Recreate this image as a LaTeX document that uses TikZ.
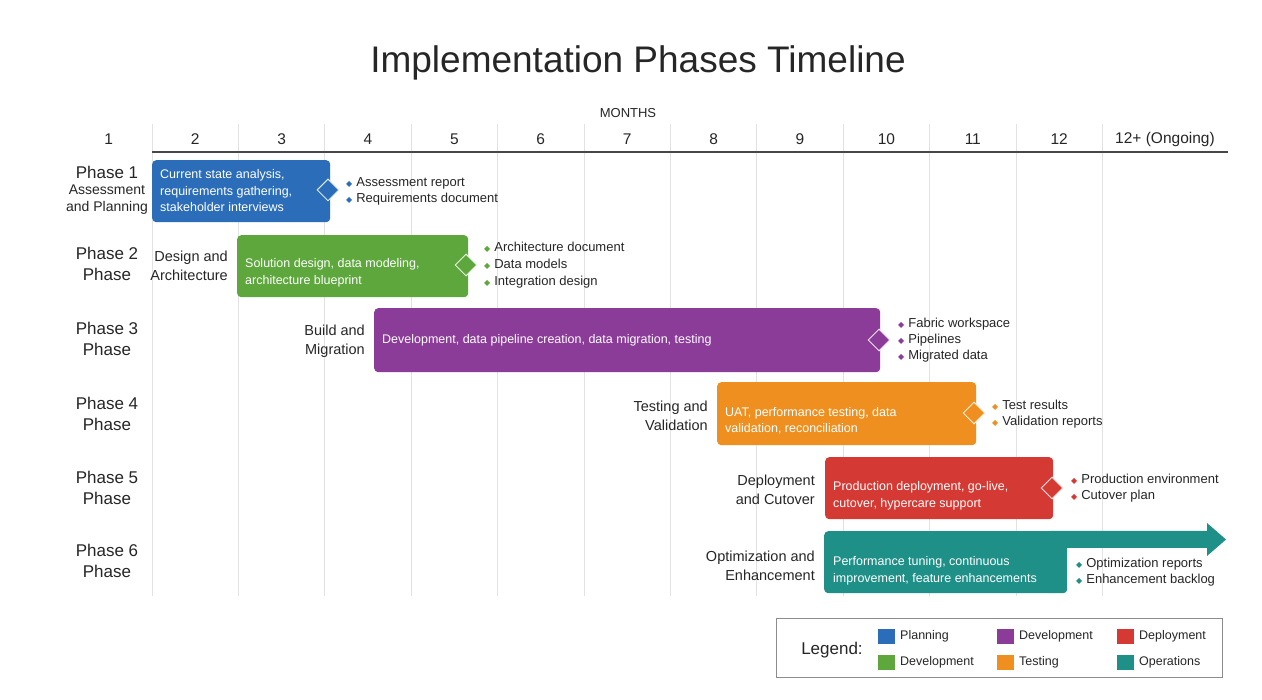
\documentclass[tikz,border=0pt]{standalone}
\usepackage{fontspec}
\setmainfont{Liberation Sans}
\newfontfamily\symfont{DejaVu Sans}
\usetikzlibrary{shapes.geometric}

\definecolor{cplan}{HTML}{2B6DB8}
\definecolor{cdesign}{HTML}{5DA73C}
\definecolor{cbuild}{HTML}{8B3B98}
\definecolor{ctest}{HTML}{EF8F1F}
\definecolor{cdeploy}{HTML}{D43A33}
\definecolor{cops}{HTML}{1F9088}
\definecolor{ink}{HTML}{262626}
\definecolor{gridc}{HTML}{E2E2E2}

% coloured diamond bullet in front of a deliverable
\newcommand{\dbul}[1]{\textcolor{#1}{\symfont\fontsize{8}{8}\selectfont ◆}\hspace{4pt}}

\begin{document}
\begin{tikzpicture}[x=1pt,y=-1pt,
  bar/.style={rounded corners=4pt, inner sep=0, anchor=north west},
  bartext/.style={text=white, align=left, anchor=west, inner sep=0,
    font=\fontsize{12.5}{16.5}\selectfont},
  mile/.style={diamond, fill=#1, draw=white!85!#1, line width=1pt,
    minimum width=22pt, minimum height=22pt, inner sep=0},
  deliv/.style={anchor=west, align=left, text=ink, inner sep=0,
    font=\fontsize{13}{16}\selectfont},
  phaselbl/.style={align=center, text=ink, inner sep=0,
    font=\fontsize{17}{20.5}\selectfont},
  steplbl/.style={align=right, anchor=east, text=ink, inner sep=0,
    font=\fontsize{14.5}{19}\selectfont},
  monthlbl/.style={text=ink, inner sep=0, font=\fontsize{15.5}{18}\selectfont},
  legtext/.style={anchor=west, text=ink, inner sep=0, font=\fontsize{12.5}{14}\selectfont},
  swatch/.style={fill=#1, minimum width=17pt, minimum height=15pt, inner sep=0, anchor=north west}
]
\useasboundingbox (0,0) rectangle (1262,700);
\fill[white] (0,0) rectangle (1262,700);

% title
\node[text=ink, inner sep=0, font=\fontsize{37}{40}\selectfont] (title) at (638,63) {Implementation Phases Timeline};

% month axis
\node[text=ink, inner sep=0, font=\fontsize{13}{15}\selectfont] (months) at (628,113) {MONTHS};
\foreach \k in {0,...,11}
  \draw[gridc, line width=1pt] ({152+86.4*\k},124) -- ({152+86.4*\k},596);
\draw[ink!85, line width=1.6pt] (152,152) -- (1228,152);
\foreach \i in {1,...,12}
  \node[monthlbl] (mo\i) at ({152+86.4*(\i-2)+43.2},139) {\i};
\node[monthlbl] (mo13) at (1165,139) {12+ (Ongoing)};

% phase names
\node[phaselbl] (p1) at (107,190) {Phase 1\\[-4pt]{\fontsize{14}{17}\selectfont Assessment}\\[-4pt]{\fontsize{14}{17}\selectfont and Planning}};
\node[phaselbl] (p2) at (107,264) {Phase 2\\Phase};
\node[phaselbl] (p3) at (107,339) {Phase 3\\Phase};
\node[phaselbl] (p4) at (107,414) {Phase 4\\Phase};
\node[phaselbl] (p5) at (107,488) {Phase 5\\Phase};
\node[phaselbl] (p6) at (107,561) {Phase 6\\Phase};

% step names
\node[steplbl] (s2) at (228,266) {Design and\\Architecture};
\node[steplbl] (s3) at (365,341) {Build and\\Migration};
\node[steplbl] (s4) at (708,416) {Testing and\\Validation};
\node[steplbl] (s5) at (815,490) {Deployment\\and Cutover};
\node[steplbl] (s6) at (815,566) {Optimization and\\Enhancement};

% phase 1
\node[bar, fill=cplan, minimum width=178, minimum height=62] (b1) at (152,160) {};
\node[bartext] (t1) at (160,191) {Current state analysis,\\requirements gathering,\\stakeholder interviews};
\node[mile=cplan] (m1) at (328,190) {};
\node[deliv] (d1) at (346,191) {\dbul{cplan}Assessment report\\\dbul{cplan}Requirements document};

% phase 2
\node[bar, fill=cdesign, minimum width=231, minimum height=62] (b2) at (237,235) {};
\node[bartext] (t2) at (245,273) {Solution design, data modeling,\\architecture blueprint};
\node[mile=cdesign] (m2) at (466,265) {};
\node[deliv] (d2) at (484,265) {\dbul{cdesign}Architecture document\\[1pt]\dbul{cdesign}Data models\\[1pt]\dbul{cdesign}Integration design};

% phase 3
\node[bar, fill=cbuild, minimum width=506, minimum height=64] (b3) at (374,308) {};
\node[bartext] (t3) at (382,340) {Development, data pipeline creation, data migration, testing};
\node[mile=cbuild] (m3) at (879,340) {};
\node[deliv] (d3) at (898,340) {\dbul{cbuild}Fabric workspace\\\dbul{cbuild}Pipelines\\\dbul{cbuild}Migrated data};

% phase 4
\node[bar, fill=ctest, minimum width=259, minimum height=63] (b4) at (717,382) {};
\node[bartext] (t4) at (725,421) {UAT, performance testing, data\\validation, reconciliation};
\node[mile=ctest] (m4) at (974,413) {};
\node[deliv] (d4) at (992,414) {\dbul{ctest}Test results\\\dbul{ctest}Validation reports};

% phase 5
\node[bar, fill=cdeploy, minimum width=228, minimum height=62] (b5) at (825,457) {};
\node[bartext] (t5) at (833,496) {Production deployment, go-live,\\cutover, hypercare support};
\node[mile=cdeploy] (m5) at (1052,488) {};
\node[deliv] (d5) at (1071,488) {\dbul{cdeploy}Production environment\\\dbul{cdeploy}Cutover plan};

% phase 6: ongoing band ending in an arrow head
\fill[cops] (1050,531) -- (1207,531) -- (1207,523) -- (1226,539.5) -- (1207,556) -- (1207,548) -- (1050,548) -- cycle;
\node[bar, fill=cops, minimum width=243, minimum height=62] (b6) at (824,531) {};
\node[bartext] (t6) at (833,571) {Performance tuning, continuous\\improvement, feature enhancements};
\node[deliv] (d6) at (1076,572) {\dbul{cops}Optimization reports\\\dbul{cops}Enhancement backlog};

% legend
\draw[black!45, line width=0.8pt] (776,618) rectangle (1222,677);
\node[text=ink, inner sep=0, font=\fontsize{17}{19}\selectfont] (leg) at (832,650) {Legend:};
\node[swatch=cplan] (l1) at (878,629) {};
\node[legtext] (l1t) at (900,636.5) {Planning};
\node[swatch=cdesign] (l2) at (878,655) {};
\node[legtext] (l2t) at (900,662.5) {Development};
\node[swatch=cbuild] (l3) at (997,629) {};
\node[legtext] (l3t) at (1019,636.5) {Development};
\node[swatch=ctest] (l4) at (997,655) {};
\node[legtext] (l4t) at (1019,662.5) {Testing};
\node[swatch=cdeploy] (l5) at (1117,629) {};
\node[legtext] (l5t) at (1139,636.5) {Deployment};
\node[swatch=cops] (l6) at (1117,655) {};
\node[legtext] (l6t) at (1139,662.5) {Operations};
\end{tikzpicture}
\end{document}
